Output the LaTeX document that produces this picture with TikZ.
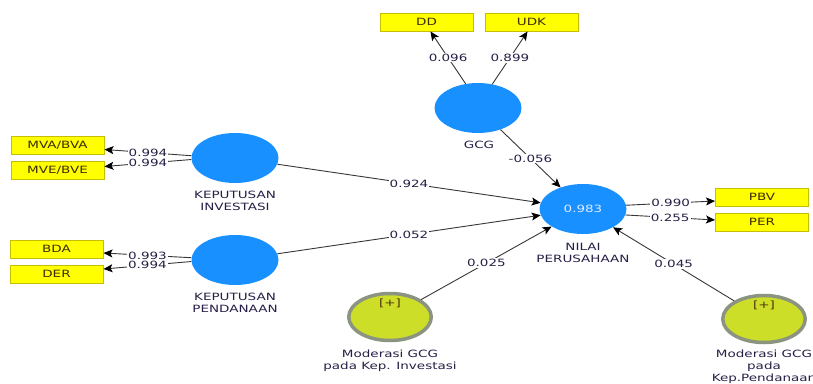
\documentclass[tikz,border=0pt]{standalone}
\usepackage{fontspec}
\newfontfamily\dfont[FakeStretch=1.35]{DejaVu Sans}
\usetikzlibrary{shapes.geometric,arrows.meta,calc}
\definecolor{lvblue}{RGB}{24,144,255}
\definecolor{boxyellow}{RGB}{255,255,0}
\definecolor{boxedge}{RGB}{200,190,0}
\definecolor{boxtext}{RGB}{60,45,0}
\definecolor{modgray}{RGB}{138,148,128}
\definecolor{modfill}{RGB}{204,222,40}
\definecolor{labtext}{RGB}{40,30,70}
\definecolor{linegray}{RGB}{55,55,55}
\definecolor{plusbrown}{RGB}{80,50,10}
\definecolor{valwhite}{RGB}{225,235,255}
\begin{document}
\begin{tikzpicture}[x=1pt,y=-1pt,
  font=\dfont\fontsize{10}{12}\selectfont,
  ind/.style={draw=boxedge, fill=boxyellow, line width=1pt, minimum width=93pt, minimum height=18pt, inner sep=0pt, text=boxtext},
  lv/.style={ellipse, fill=lvblue, minimum width=87pt, minimum height=50pt, inner sep=0pt},
  mod/.style={ellipse, draw=modgray, line width=3.5pt, fill=modfill, minimum width=82.5pt, minimum height=47pt, inner sep=0pt},
  lab/.style={text=labtext, align=center, inner sep=0pt},
  arr/.style={draw=linegray, line width=0.9pt, -{Stealth[length=9pt,width=8pt,inset=2pt,color=black]}},
  coef/.style={fill=white, inner sep=1pt, text=labtext},
  plus/.style={text=plusbrown, inner sep=0pt}
]
\useasboundingbox (0,0) rectangle (813,383);

% indicator boxes
\node[ind] (mva) at (57.5,145.5) {MVA/BVA};
\node[ind] (mve) at (57.5,170.5) {MVE/BVE};
\node[ind] (bda) at (56.5,249) {BDA};
\node[ind] (der) at (56.5,274) {DER};
\node[ind] (dd) at (426.5,22) {DD};
\node[ind] (udk) at (531.5,22) {UDK};
\node[ind] (pbv) at (762,197) {PBV};
\node[ind] (per) at (762,222) {PER};

% latent variables
\node[lv] (ki) at (235,158) {};
\node[lv] (kp) at (235,260) {};
\node[lv] (gcg) at (478,108) {};
\node[lv, text=valwhite] (nilai) at (583,209) {0.983};
\node[mod] (m1) at (390,317) {};
\node[mod] (m2) at (764,319) {};
\node[plus] (p1) at (390,303) {[+]};
\node[plus] (p2) at (764,305) {[+]};

% labels
\node[lab] (kil) at (235,201) {KEPUTUSAN\\INVESTASI};
\node[lab] (kpl) at (235,303) {KEPUTUSAN\\PENDANAAN};
\node[lab] (gcgl) at (479,145) {GCG};
\node[lab] (nilail) at (583,253) {NILAI\\PERUSAHAAN};
\node[lab] (m1l) at (390,361) {Moderasi GCG\\pada Kep. Investasi};
\node[lab] (m2l) at (764,367) {Moderasi GCG\\pada\\Kep.Pendanaan};

% outer loadings
\draw[arr] (ki.177) -- node[coef]{0.994} ([yshift=-4pt]mva.east);
\draw[arr] (ki.182) -- node[coef]{0.994} ([yshift=4pt]mve.east);
\draw[arr] (kp.177) -- node[coef]{0.993} ([yshift=-4pt]bda.east);
\draw[arr] (kp.182) -- node[coef]{0.994} ([yshift=5pt]der.east);
\draw[arr] (gcg.117) -- node[coef]{0.096} ([xshift=4pt]dd.south);
\draw[arr] (gcg.59) -- node[coef]{0.899} ([xshift=-4pt]udk.south);
\draw[arr] (nilai.5) -- node[coef]{0.990} ([yshift=-4pt]pbv.west);
\draw[arr] (nilai.-8) -- node[coef]{0.255} ([yshift=2pt]per.west);

% path coefficients
\draw[arr] (gcg) -- node[coef]{-0.056} (nilai);
\draw[arr] (ki) -- node[coef]{0.924} (nilai);
\draw[arr] (kp) -- node[coef]{0.052} (nilai);
\draw[arr] (m1) -- node[coef]{0.025} (nilai);
\draw[arr] (m2) -- node[coef]{0.045} (nilai);
\end{tikzpicture}
\end{document}
